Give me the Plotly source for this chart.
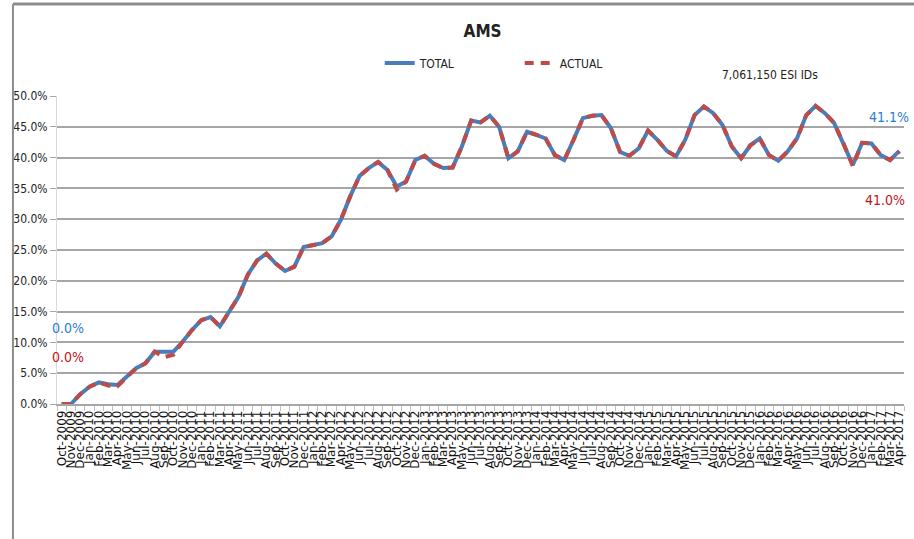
import plotly.graph_objects as go

# Monthly categories, Oct 2009 through Apr 2017
MONTH_NAMES = ["Jan", "Feb", "Mar", "Apr", "May", "Jun",
               "Jul", "Aug", "Sep", "Oct", "Nov", "Dec"]
MONTHS = (
    [f"{m}-2009" for m in MONTH_NAMES[9:]]
    + [f"{m}-{y}" for y in range(2010, 2017) for m in MONTH_NAMES]
    + [f"{m}-2017" for m in MONTH_NAMES[:4]]
)

# AMS penetration, percent
TOTAL = [
    0.0, 0.0, 1.6,
    2.8, 3.5, 3.2, 3.1, 4.4, 5.8, 6.6, 8.5, 8.5, 8.5, 10.1, 12.0,
    13.6, 14.1, 12.6, 15.0, 17.4, 21.0, 23.3, 24.4, 22.8, 21.6, 22.3, 25.5,
    25.8, 26.1, 27.2, 29.9, 33.7, 37.0, 38.3, 39.3, 38.0, 35.3, 36.1, 39.6,
    40.3, 39.0, 38.3, 38.4, 41.8, 46.0, 45.7, 46.8, 45.0, 39.9, 41.0, 44.2,
    43.7, 43.1, 40.4, 39.6, 42.9, 46.4, 46.8, 46.9, 44.8, 40.9, 40.3, 41.5,
    44.4, 42.9, 41.1, 40.2, 42.9, 46.9, 48.3, 47.2, 45.3, 41.8, 39.9, 42.0,
    43.1, 40.4, 39.5, 41.0, 43.1, 46.9, 48.4, 47.2, 45.6, 42.3, 38.8, 42.4,
    42.3, 40.4, 39.6, 41.1,
]
ACTUAL = [
    0.0, 0.0, 1.6,
    2.8, 3.5, 3.0, 2.9, 4.4, 5.8, 6.6, 8.5, 7.6, 8.0, 10.1, 12.0,
    13.6, 14.1, 12.6, 15.0, 17.4, 21.0, 23.3, 24.4, 22.8, 21.6, 22.3, 25.5,
    25.8, 26.1, 27.2, 29.9, 33.7, 37.0, 38.3, 39.3, 38.0, 34.8, 36.1, 39.6,
    40.3, 39.0, 38.3, 38.4, 41.8, 46.0, 45.7, 46.8, 45.0, 39.9, 41.0, 44.2,
    43.7, 43.1, 40.4, 39.6, 42.9, 46.4, 46.8, 46.9, 44.8, 40.9, 40.3, 41.5,
    44.4, 42.9, 41.1, 40.2, 42.9, 46.9, 48.3, 47.2, 45.3, 41.8, 39.9, 42.0,
    43.1, 40.4, 39.5, 41.0, 43.1, 46.9, 48.4, 47.2, 45.6, 42.3, 38.6, 42.4,
    42.3, 40.4, 39.6, 41.0,
]
METER_COUNT = "7,061,150 ESI IDs"

BLUE = "#4A7EBB"
RED = "#BE4B48"
LABEL_BLUE = "#2A7DD1"
LABEL_RED = "#C0141C"
GRID = "#A6A6A6"
NARROW = "Liberation Sans Narrow, DejaVu Sans Condensed, Arial Narrow, sans-serif"

fig = go.Figure()
fig.add_trace(go.Scatter(
    x=MONTHS, y=TOTAL, mode="lines", name="TOTAL",
    line=dict(color=BLUE, width=4),
))
fig.add_trace(go.Scatter(
    x=MONTHS, y=ACTUAL, mode="lines", name="ACTUAL",
    line=dict(color=RED, width=4, dash="9px,7px"),
))

# start / end value call-outs
fig.add_annotation(x=0.7, y=12.3, xref="x", yref="y", text=f"{TOTAL[0]:.1f}%",
                   showarrow=False, font=dict(family=NARROW, size=14, color=LABEL_BLUE))
fig.add_annotation(x=0.7, y=7.6, xref="x", yref="y", text=f"{ACTUAL[0]:.1f}%",
                   showarrow=False, font=dict(family=NARROW, size=14, color=LABEL_RED))
fig.add_annotation(x=88.9, y=46.6, xref="x", yref="y", text=f"{TOTAL[-1]:.1f}%",
                   showarrow=False, font=dict(family=NARROW, size=14, color=LABEL_BLUE))
fig.add_annotation(x=88.5, y=33.1, xref="x", yref="y", text=f"{ACTUAL[-1]:.1f}%",
                   showarrow=False, font=dict(family=NARROW, size=14, color=LABEL_RED))
fig.add_annotation(x=0.842, y=1.068, xref="paper", yref="paper", text=METER_COUNT,
                   xanchor="center", yanchor="middle",
                   showarrow=False, font=dict(family=NARROW, size=12, color="#222222"))

# chart frame (top and left edges)
fig.add_shape(type="line", xref="paper", yref="paper", x0=-0.052, x1=1.02, y0=1.299, y1=1.299,
              line=dict(color="#8C8C8C", width=3))
fig.add_shape(type="line", xref="paper", yref="paper", x0=-0.052, x1=-0.052, y0=1.299, y1=-0.45,
              line=dict(color="#8C8C8C", width=2))

fig.update_layout(
    width=914, height=539,
    margin=dict(l=57, r=10, t=96, b=135),
    paper_bgcolor="white", plot_bgcolor="white",
    font=dict(family=NARROW, color="#222222"),
    title=dict(text="<b>AMS</b>", x=0.528, xref="container", y=0.943, yanchor="middle",
               xanchor="center", font=dict(family=NARROW, size=17, color="#222222")),
    showlegend=True,
    legend=dict(orientation="h", x=0.381, y=1.107, xref="paper", yref="paper",
                xanchor="left", yanchor="middle", entrywidth=95, entrywidthmode="pixels",
                font=dict(family=NARROW, size=12, color="#222222"),
                bgcolor="rgba(0,0,0,0)"),
    xaxis=dict(
        type="category", range=[-0.5, 90.5], tickson="boundaries",
        tickmode="array", tickvals=MONTHS, ticktext=MONTHS,
        ticks="outside", ticklen=5, tickcolor="#BFBFBF",
        showline=True, linecolor=GRID, linewidth=1.5, showgrid=False,
        tickangle=-90, tickfont=dict(family="DejaVu Sans", size=12, color="#111111"),
        automargin=False,
    ),
    yaxis=dict(
        range=[0, 50], dtick=5, tick0=0, tickformat=".1f", ticksuffix="%",
        showgrid=True, gridcolor=GRID, gridwidth=1.5, zeroline=False,
        ticks="outside", ticklen=6, tickcolor=GRID,
        showline=True, linecolor="#D9D9D9",
        tickfont=dict(family=NARROW, size=12, color="#222222"),
        automargin=False,
    ),
)

fig.write_html("out.html")
